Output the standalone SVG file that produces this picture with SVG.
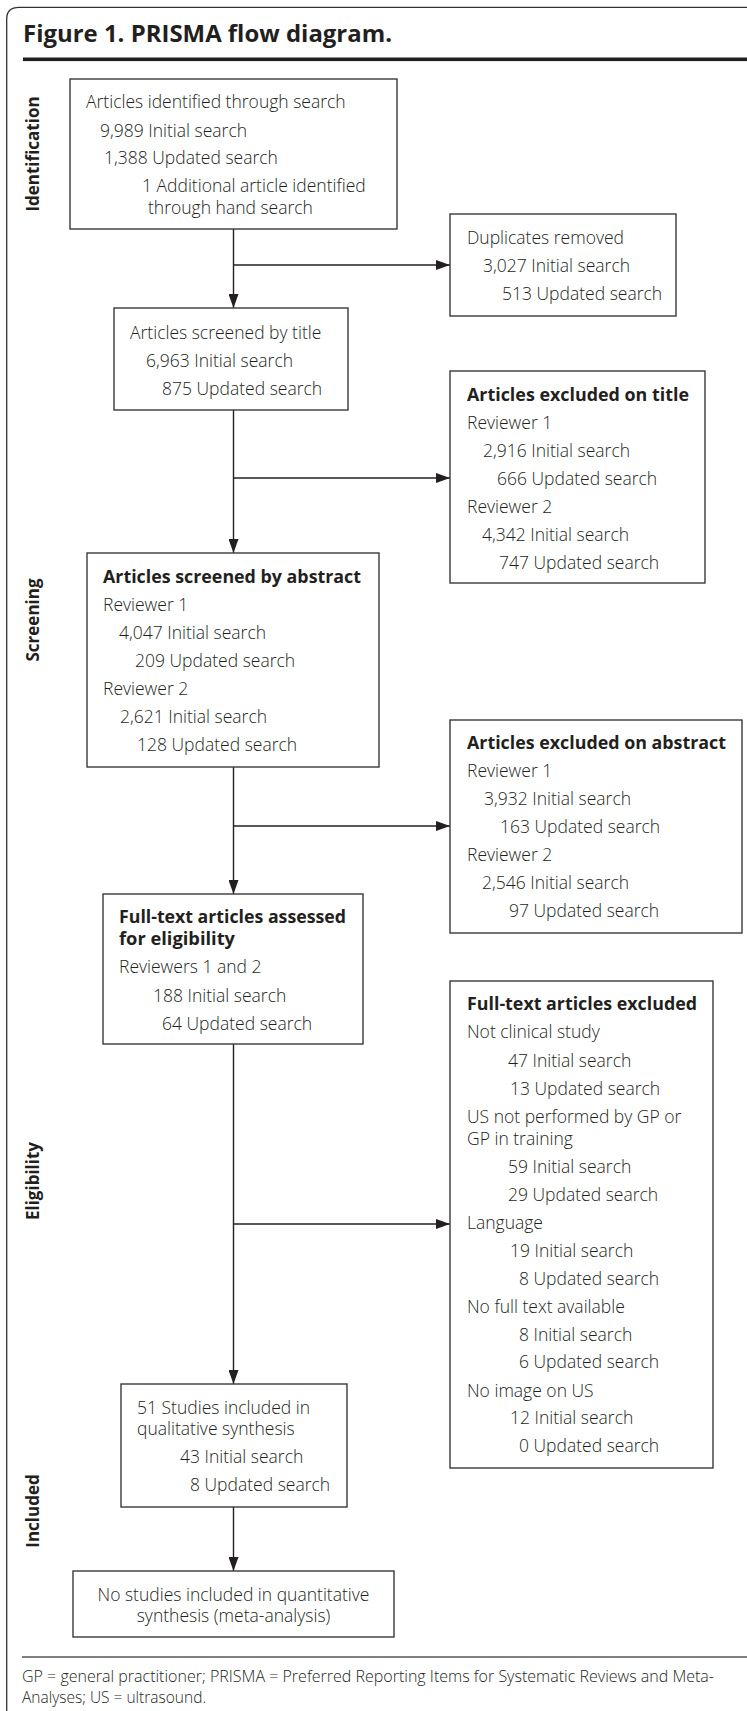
<svg xmlns="http://www.w3.org/2000/svg" width="747" height="1711" viewBox="0 0 747 1711">
<style>
text{font-family:"Open Sans","Liberation Sans",sans-serif;fill:#231f20;}
.t{font-size:17.5px;font-weight:300;}
.b{font-size:17px;font-weight:bold;}
.side{font-size:17px;font-weight:bold;text-anchor:middle;}
.box{fill:#fff;stroke:#3a3a3a;stroke-width:1.4;}
.c{fill:none;stroke:#231f20;stroke-width:1.4;}
.foot{font-size:15.5px;font-weight:300;}
</style>
<defs>
<marker id="ah" markerUnits="userSpaceOnUse" markerWidth="14" markerHeight="10" refX="14" refY="5" orient="auto">
<path d="M0,0 L14,5 L0,10 Z" fill="#231f20"/>
</marker>
</defs>
<rect width="747" height="1711" fill="#fff"/>
<path d="M6.7,1711 V19 Q6.7,7.3 19,7.3 H747" fill="none" stroke="#333" stroke-width="1.3"/>
<text x="23" y="42" style="font-size:23px;font-weight:bold" textLength="369" lengthAdjust="spacingAndGlyphs">Figure 1. PRISMA flow diagram.</text>
<rect x="23" y="57.5" width="724" height="3.6" fill="#231f20"/>

<g id="labels">
<text class="side" transform="translate(38.5,154) rotate(-90)">Identification</text>
<text class="side" transform="translate(38.5,620) rotate(-90)">Screening</text>
<text class="side" transform="translate(38.5,1181) rotate(-90)">Eligibility</text>
<text class="side" transform="translate(38.5,1511) rotate(-90)">Included</text>
</g>

<g id="connectors">
<line class="c" x1="233.5" y1="229" x2="233.5" y2="308" marker-end="url(#ah)"/>
<line class="c" x1="233.5" y1="265" x2="450" y2="265" marker-end="url(#ah)"/>
<line class="c" x1="233.5" y1="410" x2="233.5" y2="553" marker-end="url(#ah)"/>
<line class="c" x1="233.5" y1="478" x2="450" y2="478" marker-end="url(#ah)"/>
<line class="c" x1="233.5" y1="767" x2="233.5" y2="894" marker-end="url(#ah)"/>
<line class="c" x1="233.5" y1="826" x2="450" y2="826" marker-end="url(#ah)"/>
<line class="c" x1="233.5" y1="1044" x2="233.5" y2="1384" marker-end="url(#ah)"/>
<line class="c" x1="233.5" y1="1224" x2="450" y2="1224" marker-end="url(#ah)"/>
<line class="c" x1="233.5" y1="1507" x2="233.5" y2="1571" marker-end="url(#ah)"/>
</g>

<g id="identified">
<rect class="box" x="70" y="79" width="327" height="150"/>
<text class="t" x="86" y="108">Articles identified through search</text>
<text class="t" x="100" y="137">9,989 Initial search</text>
<text class="t" x="104" y="164">1,388 Updated search</text>
<text class="t" x="142" y="192">1 Additional article identified</text>
<text class="t" x="148" y="214">through hand search</text>
</g>

<g id="duplicates">
<rect class="box" x="450" y="214" width="226" height="102"/>
<text class="t" x="467" y="244">Duplicates removed</text>
<text class="t" x="483" y="272">3,027 Initial search</text>
<text class="t" x="502" y="300">513 Updated search</text>
</g>

<g id="screened-title">
<rect class="box" x="114" y="308" width="234" height="102"/>
<text class="t" x="130" y="339">Articles screened by title</text>
<text class="t" x="146" y="367">6,963 Initial search</text>
<text class="t" x="162" y="395">875 Updated search</text>
</g>

<g id="excluded-title">
<rect class="box" x="450" y="371" width="255" height="212"/>
<text class="b" x="467" y="401" textLength="222" lengthAdjust="spacingAndGlyphs">Articles excluded on title</text>
<text class="t" x="467" y="429">Reviewer 1</text>
<text class="t" x="483" y="457">2,916 Initial search</text>
<text class="t" x="497" y="485">666 Updated search</text>
<text class="t" x="467" y="513">Reviewer 2</text>
<text class="t" x="482" y="541">4,342 Initial search</text>
<text class="t" x="499" y="569">747 Updated search</text>
</g>

<g id="screened-abstract">
<rect class="box" x="87" y="553" width="292" height="214"/>
<text class="b" x="103" y="583" textLength="258" lengthAdjust="spacingAndGlyphs">Articles screened by abstract</text>
<text class="t" x="103" y="611">Reviewer 1</text>
<text class="t" x="119" y="639">4,047 Initial search</text>
<text class="t" x="135" y="667">209 Updated search</text>
<text class="t" x="103" y="695">Reviewer 2</text>
<text class="t" x="120" y="723">2,621 Initial search</text>
<text class="t" x="137" y="751">128 Updated search</text>
</g>

<g id="excluded-abstract">
<rect class="box" x="450" y="720" width="292" height="213"/>
<text class="b" x="467" y="749" textLength="259" lengthAdjust="spacingAndGlyphs">Articles excluded on abstract</text>
<text class="t" x="467" y="777">Reviewer 1</text>
<text class="t" x="484" y="805">3,932 Initial search</text>
<text class="t" x="500" y="833">163 Updated search</text>
<text class="t" x="467" y="861">Reviewer 2</text>
<text class="t" x="482" y="889">2,546 Initial search</text>
<text class="t" x="509" y="917">97 Updated search</text>
</g>

<g id="fulltext-assessed">
<rect class="box" x="103" y="894" width="260" height="150"/>
<text class="b" x="119" y="923" textLength="227" lengthAdjust="spacingAndGlyphs">Full-text articles assessed</text>
<text class="b" x="119" y="945" textLength="116" lengthAdjust="spacingAndGlyphs">for eligibility</text>
<text class="t" x="119" y="973">Reviewers 1 and 2</text>
<text class="t" x="153" y="1002">188 Initial search</text>
<text class="t" x="162" y="1030">64 Updated search</text>
</g>

<g id="fulltext-excluded">
<rect class="box" x="450" y="981" width="263" height="487"/>
<text class="b" x="467" y="1010" textLength="230" lengthAdjust="spacingAndGlyphs">Full-text articles excluded</text>
<text class="t" x="467" y="1038">Not clinical study</text>
<text class="t" x="508" y="1067">47 Initial search</text>
<text class="t" x="510" y="1095">13 Updated search</text>
<text class="t" x="467" y="1123">US not performed by GP or</text>
<text class="t" x="467" y="1145">GP in training</text>
<text class="t" x="508" y="1173">59 Initial search</text>
<text class="t" x="508" y="1201">29 Updated search</text>
<text class="t" x="467" y="1229">Language</text>
<text class="t" x="510" y="1257">19 Initial search</text>
<text class="t" x="519" y="1285">8 Updated search</text>
<text class="t" x="467" y="1313">No full text available</text>
<text class="t" x="519" y="1341">8 Initial search</text>
<text class="t" x="519" y="1368">6 Updated search</text>
<text class="t" x="467" y="1397">No image on US</text>
<text class="t" x="510" y="1424">12 Initial search</text>
<text class="t" x="519" y="1452">0 Updated search</text>
</g>

<g id="included-qualitative">
<rect class="box" x="121" y="1384" width="226" height="123"/>
<text class="t" x="137" y="1414">51 Studies included in</text>
<text class="t" x="137" y="1435">qualitative synthesis</text>
<text class="t" x="180" y="1463">43 Initial search</text>
<text class="t" x="190" y="1491">8 Updated search</text>
</g>

<g id="included-quantitative">
<rect class="box" x="73" y="1571" width="321" height="66"/>
<text class="t" x="233.5" y="1601" text-anchor="middle">No studies included in quantitative</text>
<text class="t" x="233.5" y="1622" text-anchor="middle">synthesis (meta-analysis)</text>
</g>

<line x1="22" y1="1657" x2="747" y2="1657" stroke="#555" stroke-width="1.5"/>
<text class="foot" x="22" y="1682" textLength="692" lengthAdjust="spacingAndGlyphs">GP = general practitioner; PRISMA = Preferred Reporting Items for Systematic Reviews and Meta-</text>
<text class="foot" x="22" y="1703">Analyses; US = ultrasound.</text>
</svg>
